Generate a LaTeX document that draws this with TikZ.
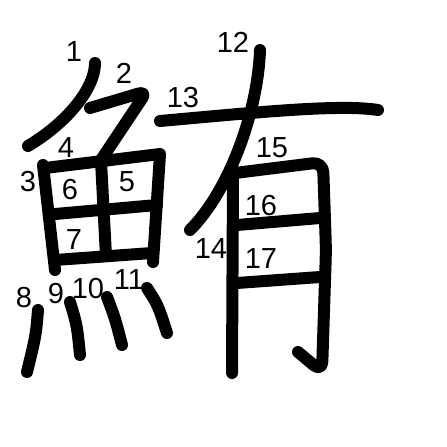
\documentclass[tikz,border=0pt]{standalone}
\usepackage{fontspec}
\setmainfont{Liberation Sans}

\begin{document}
\begin{tikzpicture}[x=0.02cm, y=-0.02cm,
    brush/.style={line width=0.24cm, line cap=round, line join=round},
    num/.style={font=\fontsize{16.5}{16.5}\selectfont, inner sep=0pt}]

    % Frame
    \fill[white] (0,0) rectangle (447,447);
    \useasboundingbox (0,0) rectangle (447,447);

    % ---- Left part ----
    % Strokes 1, 2: top
    \draw[brush] (95,63) .. controls (95,88) and (68,122) .. (28,146);
    \draw[brush, rounded corners=5] (90,108) -- (147,91) -- (101,160);

    % Strokes 3--7: the box
    \draw[brush] (43,165) -- (55,270);
    \draw[brush] (45,168) -- (160,154) -- (153,262);
    \draw[brush] (101,161) -- (106,256);
    \draw[brush] (55,214) -- (157,205);
    \draw[brush] (55,260) -- (152,253);

    % Strokes 8--11: the dots
    \draw[brush] (38,310) .. controls (36,335) .. (27,372);
    \draw[brush] (70,302) .. controls (77,325) .. (80,355);
    \draw[brush] (107,297) .. controls (115,318) .. (122,345);
    \draw[brush] (147,288) .. controls (158,305) .. (167,333);

    % ---- Right part ----
    % Strokes 12, 13
    \draw[brush] (260,50) .. controls (258,110) and (230,190) .. (190,230);
    \draw[brush] (160,121) .. controls (260,112) and (340,104) .. (378,110);

    % Strokes 14--17
    \draw[brush] (233,175) -- (232,373);
    \draw[brush, rounded corners=6] (235,173) -- (323,162) -- (326,250) -- (322,372) -- (298,352);
    \draw[brush] (237,225) -- (320,218);
    \draw[brush] (237,283) -- (320,277);

    % Stroke numbers
    \node[num] (n1) at (74,52) {1};
    \node[num] (n2) at (124,73) {2};
    \node[num] (n3) at (28,182) {3};
    \node[num] (n4) at (66,148) {4};
    \node[num] (n5) at (127,182) {5};
    \node[num] (n6) at (70,190) {6};
    \node[num] (n7) at (74,240) {7};
    \node[num] (n8) at (24,298) {8};
    \node[num] (n9) at (56,294) {9};
    \node[num] (n10) at (88,289) {10};
    \node[num] (n11) at (129,280) {11};
    \node[num] (n12) at (233,42) {12};
    \node[num] (n13) at (183,98) {13};
    \node[num] (n14) at (211,249) {14};
    \node[num] (n15) at (272,148) {15};
    \node[num] (n16) at (261,206) {16};
    \node[num] (n17) at (261,259) {17};

\end{tikzpicture}
\end{document}
